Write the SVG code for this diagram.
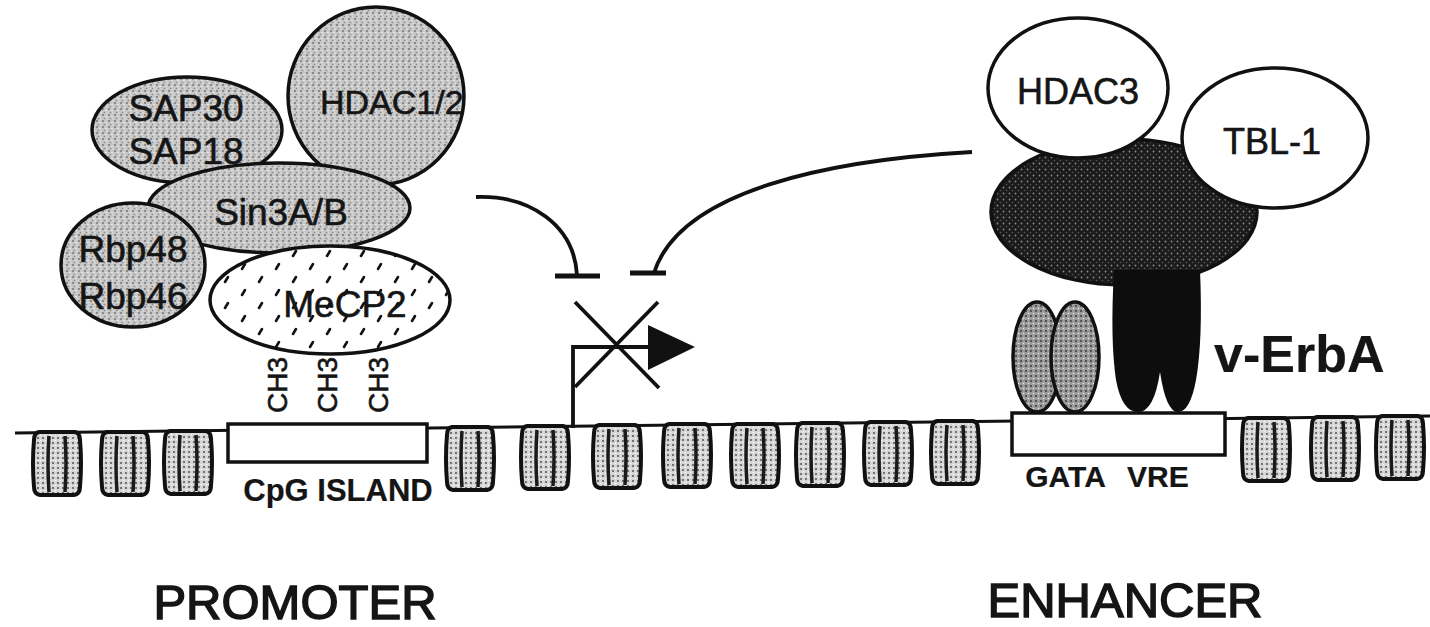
<svg xmlns="http://www.w3.org/2000/svg" xmlns:xlink="http://www.w3.org/1999/xlink" width="1430" height="627" viewBox="0 0 1430 627">
  <defs>
    <style>
      .lbl { font-family: "Liberation Sans", Arial, sans-serif; fill: #151515; stroke: #151515; stroke-width: 0.6; }
      .big { font-family: "Liberation Sans", Arial, sans-serif; fill: #151515; stroke: #151515; stroke-width: 1.5; font-size: 49px; }
      .bold { font-weight: bold; stroke-width: 0.2; }
      .outline { stroke: #111; stroke-width: 3.5; }
      .wire { fill: none; stroke: #111; stroke-width: 3.8; stroke-linecap: butt; }
      .bar { stroke: #111; stroke-width: 5; }
    </style>
    <!-- light stipple used on the Sin3 co-repressor proteins -->
    <pattern id="grain" width="6" height="6" patternUnits="userSpaceOnUse">
      <rect width="6" height="6" fill="#c6c6c6"/>
      <circle cx="1" cy="1" r="0.9" fill="#6e6e6e"/>
      <circle cx="4" cy="2.5" r="0.8" fill="#f2f2f2"/>
      <circle cx="2.5" cy="4.5" r="0.8" fill="#8a8a8a"/>
      <circle cx="5" cy="5" r="0.7" fill="#ececec"/>
    </pattern>
    <!-- very dark stipple for the co-repressor core -->
    <pattern id="dark" width="6" height="6" patternUnits="userSpaceOnUse">
      <rect width="6" height="6" fill="#1b1b1b"/>
      <circle cx="1.5" cy="1.5" r="0.9" fill="#8c8c8c"/>
      <circle cx="4.5" cy="4.5" r="0.8" fill="#5a5a5a"/>
    </pattern>
    <!-- medium stipple for GATA factors -->
    <pattern id="mid" width="5" height="5" patternUnits="userSpaceOnUse">
      <rect width="5" height="5" fill="#9a9a9a"/>
      <circle cx="1" cy="1" r="0.9" fill="#333"/>
      <circle cx="3.5" cy="3.5" r="0.8" fill="#e6e6e6"/>
    </pattern>
    <!-- pale stipple inside nucleosomes -->
    <pattern id="pale" width="5" height="5" patternUnits="userSpaceOnUse">
      <rect width="5" height="5" fill="#d6d6d6"/>
      <circle cx="1" cy="1" r="0.9" fill="#444"/>
      <circle cx="3.5" cy="3.5" r="0.8" fill="#fafafa"/>
    </pattern>
    <!-- sparse dashes on MeCP2 -->
    <pattern id="dashes" width="34" height="26" patternUnits="userSpaceOnUse">
      <rect width="34" height="26" fill="#ffffff"/>
      <line x1="4" y1="9" x2="7" y2="4" stroke="#111" stroke-width="2.6" stroke-linecap="round"/>
      <line x1="21" y1="22" x2="24" y2="17" stroke="#111" stroke-width="2.6" stroke-linecap="round"/>
    </pattern>
    <!-- one nucleosome, origin at its top centre -->
    <g id="nuc">
      <path d="M-18,0 H18 Q23,1 23,8 Q25,31 23,55 Q23,62 17,63 H-17 Q-23,62 -23,55 Q-25,31 -23,8 Q-23,1 -18,0 Z" fill="url(#pale)" stroke="#111" stroke-width="4"/>
      <path d="M-8,4 Q-10,31 -8,60 M8,4 Q10,31 8,60" fill="none" stroke="#1a1a1a" stroke-width="3.5"/>
    </g>
  </defs>

  <rect width="1430" height="627" fill="#ffffff"/>

  <!-- DNA strand with promoter and enhancer elements -->
  <g id="dna">
    <line x1="15" y1="433" x2="1430" y2="416" stroke="#111" stroke-width="3"/>
    <rect id="cpg-box" x="228" y="424" width="199" height="38" fill="#fff" stroke="#111" stroke-width="3.5"/>
    <rect id="gata-vre-box" x="1012" y="413" width="213" height="42" fill="#fff" stroke="#111" stroke-width="3.5"/>
  </g>

  <g id="nucleosomes">
    <use id="nuc1" xlink:href="#nuc" x="57" y="432"/>
    <use id="nuc2" xlink:href="#nuc" x="125" y="432"/>
    <use id="nuc3" xlink:href="#nuc" x="188" y="431"/>
    <use id="nuc4" xlink:href="#nuc" x="470" y="427"/>
    <use id="nuc5" xlink:href="#nuc" x="545" y="426"/>
    <use id="nuc6" xlink:href="#nuc" x="617" y="425"/>
    <use id="nuc7" xlink:href="#nuc" x="687" y="424"/>
    <use id="nuc8" xlink:href="#nuc" x="755" y="424"/>
    <use id="nuc9" xlink:href="#nuc" x="820" y="423"/>
    <use id="nuc10" xlink:href="#nuc" x="888" y="422"/>
    <use id="nuc11" xlink:href="#nuc" x="955" y="421"/>
    <use id="nuc12" xlink:href="#nuc" x="1266" y="418"/>
    <use id="nuc13" xlink:href="#nuc" x="1335" y="417"/>
    <use id="nuc14" xlink:href="#nuc" x="1400" y="416"/>
  </g>

  <!-- Sin3 / MeCP2 co-repressor complex on the promoter -->
  <g id="hdac12">
    <ellipse cx="376" cy="96" rx="88" ry="89" fill="url(#grain)" class="outline"/>
    <text class="lbl" x="320" y="114" font-size="34">HDAC1/2</text>
  </g>
  <g id="sap">
    <ellipse cx="187" cy="130" rx="95" ry="53" fill="url(#grain)" class="outline"/>
    <text class="lbl" x="186" y="121" font-size="37" text-anchor="middle">SAP30</text>
    <text class="lbl" x="186" y="164" font-size="37" text-anchor="middle">SAP18</text>
  </g>
  <g id="sin3">
    <ellipse cx="279" cy="208" rx="131" ry="45" fill="url(#grain)" class="outline"/>
    <text class="lbl" x="281" y="225" font-size="37" text-anchor="middle">Sin3A/B</text>
  </g>
  <g id="rbp">
    <ellipse cx="133" cy="265" rx="72" ry="62" fill="url(#grain)" class="outline"/>
    <text class="lbl" x="133" y="262" font-size="37" text-anchor="middle">Rbp48</text>
    <text class="lbl" x="133" y="309" font-size="37" text-anchor="middle">Rbp46</text>
  </g>
  <g id="mecp2">
    <ellipse cx="330" cy="300" rx="120" ry="54" fill="url(#dashes)" class="outline"/>
    <text class="lbl" x="345" y="317" font-size="37" text-anchor="middle">MeCP2</text>
  </g>
  <g id="methyl">
    <text class="lbl" font-size="28" text-anchor="middle" transform="translate(287 385) rotate(-90)">CH3</text>
    <text class="lbl" font-size="28" text-anchor="middle" transform="translate(337 385) rotate(-90)">CH3</text>
    <text class="lbl" font-size="28" text-anchor="middle" transform="translate(388 385) rotate(-90)">CH3</text>
  </g>

  <!-- v-ErbA / N-CoR complex on the enhancer -->
  <g id="ncor">
    <ellipse cx="1124" cy="212" rx="133" ry="73" fill="url(#dark)" class="outline"/>
  </g>
  <g id="hdac3">
    <ellipse cx="1078" cy="88" rx="90" ry="70" fill="#fff" class="outline"/>
    <text class="lbl" x="1078" y="104" font-size="36" text-anchor="middle">HDAC3</text>
  </g>
  <g id="tbl1">
    <ellipse cx="1275" cy="138" rx="93" ry="70" fill="#fff" class="outline"/>
    <text class="lbl" x="1272" y="154" font-size="36" text-anchor="middle">TBL-1</text>
  </g>
  <g id="verba">
    <path d="M1114,270 H1200 Q1203,340 1196,380 Q1190,412 1178,412 Q1166,412 1160,372 Q1154,412 1138,412 Q1122,412 1116,380 Q1110,340 1114,270 Z" fill="#0d0d0d"/>
    <text class="lbl bold" x="1214" y="372" font-size="52">v-ErbA</text>
  </g>
  <g id="gata">
    <ellipse cx="1037" cy="357" rx="24" ry="55" fill="url(#mid)" class="outline"/>
    <ellipse cx="1075" cy="357" rx="24" ry="55" fill="url(#mid)" class="outline"/>
  </g>

  <!-- element labels -->
  <g id="labels">
    <text class="lbl bold" x="338" y="501" font-size="31" text-anchor="middle">CpG ISLAND</text>
    <text class="lbl bold" x="1107" y="487" font-size="30" text-anchor="middle" word-spacing="14">GATA VRE</text>
    <text class="big" x="295" y="619" text-anchor="middle">PROMOTER</text>
    <text class="big" x="1125" y="617" text-anchor="middle">ENHANCER</text>
  </g>

  <!-- repression connectors and the blocked transcription start -->
  <g id="connectors">
    <path class="wire" d="M476,197 C530,195 574,225 577,275"/>
    <line class="bar" x1="555" y1="276" x2="600" y2="276"/>
    <path class="wire" d="M972,152 C830,160 680,190 654,273"/>
    <line class="bar" x1="630" y1="273" x2="666" y2="273"/>
    <path class="wire" d="M573,428 V347 H650"/>
    <polygon points="648,325 695,347 648,370" fill="#111"/>
    <line class="wire" x1="575" y1="302" x2="659" y2="388"/>
    <line class="wire" x1="658" y1="302" x2="575" y2="387"/>
  </g>
</svg>
